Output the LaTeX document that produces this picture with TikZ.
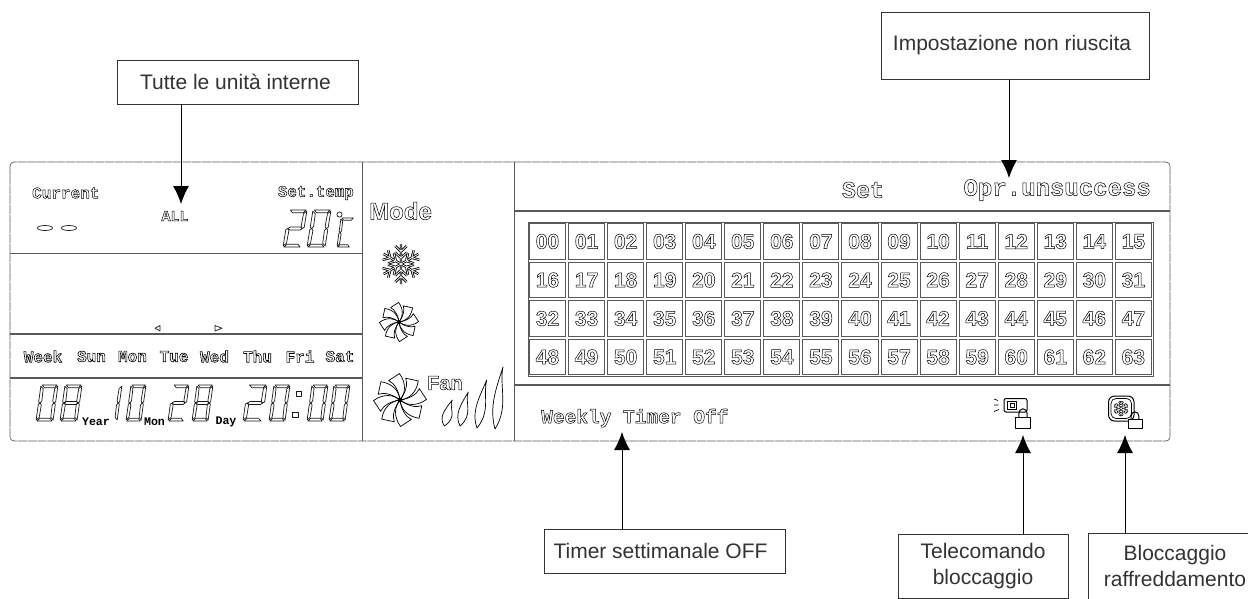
\documentclass[tikz,border=0pt]{standalone}
\usepackage{fontspec}
\setmainfont{Liberation Sans}
\newfontfamily\lcdmono{Liberation Mono}
\usetikzlibrary{arrows.meta}
\definecolor{ink}{gray}{0.2}
\definecolor{rulec}{gray}{0.35}
\tikzset{
  callout/.style={draw=ink,line width=1pt,fill=white,inner sep=0pt,align=center,text=ink,font=\fontsize{21}{26}\selectfont},
  pointer/.style={draw=black,line width=1pt,-{Latex[length=18pt,width=16pt]}},
  panelline/.style={draw=rulec,line width=.7pt,dash pattern=on 9pt off .7pt},
  divider/.style={draw=rulec,line width=1.5pt},
  lcdseg/.style={draw=black!90,line width=.7pt,line join=round},
  icon/.style={draw=black,line width=.7pt,line join=round},
  lcdtext/.style={inner sep=0pt,text=black},
}
% outlined text
\newcommand\ol[2][0.5]{\special{pdf:code 1 Tr #1 w}#2\special{pdf:code 0 Tr 1 w}}
\newcommand\mono[1]{\lcdmono\bfseries\fontsize{#1}{#1}\selectfont}
\newcommand\sans[1]{\bfseries\fontsize{#1}{#1}\selectfont}
% seven segment digit
\def\sega{(.08,0)--(.95,0)--(.82,.075)--(.22,.075)--cycle}
\def\segb{(1,.03)--(1,.47)--(.9,.5)--(.82,.44)--(.84,.1)--cycle}
\def\segc{(1,.53)--(1,.97)--(.84,.9)--(.82,.56)--(.9,.5)--cycle}
\def\segd{(.05,1)--(.95,1)--(.8,.925)--(.2,.925)--cycle}
\def\sege{(0,.53)--(0,.97)--(.16,.9)--(.18,.56)--(.1,.5)--cycle}
\def\segf{(0,.03)--(0,.47)--(.1,.5)--(.18,.44)--(.16,.1)--cycle}
\def\segg{(.1,.5)--(.22,.46)--(.8,.46)--(.9,.5)--(.8,.54)--(.22,.54)--cycle}
\newcommand\lcdpiece[1]{\draw[lcdseg] #1;}
\newcommand\lcddigit[6]{% x y w h slant segments
  \begin{scope}[shift={(#1,#2)},x={(#3 pt,0pt)},y={(-#5 pt,-#4 pt)}]
    \foreach \sg in {#6}{\expandafter\lcdpiece\csname seg\sg\endcsname}
  \end{scope}}
\newcommand\fanicon[3]{%
  \begin{scope}[shift={(#1,#2)},x={(#3 pt,0pt)},y={(0pt,#3 pt)}]
    \foreach \an in {0,45,...,315}{
      \draw[icon,rotate=\an] (0,0) .. controls (.25,-.2) and (.6,-.25) .. (.98,.02)
        -- (.72,.42) .. controls (.62,.2) and (.35,.05) .. (0,0);
    }
    \fill (0,0) circle (.09);
  \end{scope}}
\newcommand\snowicon[4]{% x y r stroke
  \begin{scope}[shift={(#1,#2)},x={(#3 pt,0pt)},y={(0pt,#3 pt)}]
    \foreach \lw/\co in {#4 pt/black,{.3*#4 pt}/white}{
      \foreach \an in {30,90,...,330}{
        \draw[rotate=\an,line width=\lw,color=\co,line cap=butt]
          (0,0)--(1,0) (.3,0)--(.58,.3) (.3,0)--(.58,-.3) (.62,0)--(.9,.28) (.62,0)--(.9,-.28);
      }
    }
  \end{scope}}
\newcommand\lockicon[4]{% x y w h
  \draw[icon,fill=white] (#1,#2) rectangle ++(#3,#4);
  \draw[icon,line width=1pt] (#1+.22*#3,#2) -- ++(0,-.3*#4) arc[start angle=180,end angle=0,x radius=.28*#3,y radius=-.45*#4] -- ++(0,.3*#4);
}
\begin{document}
\begin{tikzpicture}[x=1pt,y=-1pt]
\useasboundingbox (0,0) rectangle (1248,598);
\clip (0,0) rectangle (1248,598);
\fill[white] (0,0) rectangle (1248,598);

% panel
\draw[panelline,rounded corners=4pt] (10,162) rectangle (1170,441);
\draw[divider,line width=1.2pt] (362.5,162) -- (362.5,441);
\draw[divider] (514.5,162) -- (514.5,441);
\draw[divider] (10,253.5) -- (362,253.5);
\draw[divider] (10,334) -- (362,334);
\draw[divider] (10,378) -- (362,378);
\draw[divider] (514,211) -- (1170,211);
\draw[divider] (514,385) -- (1170,385);

% left panel texts
\node[lcdtext,anchor=west] (tcur) at (32,193) {\mono{16}\ol{Current}};
\node[lcdtext] (tall) at (175,216) {\mono{15}\ol{ALL}};
\node[lcdtext,anchor=east] (tset) at (354,193) {\mono{15.8}\ol{Set.temp}};
\draw[lcdseg] (45,228) ellipse (7.5 and 2.5) (69,228) ellipse (7.5 and 2.5);
\lcddigit{289}{210}{18}{37}{6}{a,b,g,e,d}
\lcddigit{313}{210}{18}{37}{6}{a,b,c,d,e,f}
\draw[lcdseg] (339.5,214.5) circle (2.6);
\lcddigit{341}{218}{13}{29}{4}{a,d,e,f}

\draw[lcdseg] (160,325.5) -- (160,331) -- (155,328.2) -- cycle;
\draw[lcdseg] (215,325.5) -- (215,331) -- (222,328.2) -- cycle;

\foreach \wtxt/\wx/\ws in {Week/43/16,Sun/91.5/16,Mon/132.5/16,Tue/174/16,Wed/214.5/16,Thu/257.5/16,Fri/300/16,Sat/340/16}{
  \node[lcdtext] (d\wtxt) at (\wx,356.5) {\mono{\ws}\ol[.6]{\wtxt}};
}

\lcddigit{41}{385}{17}{36}{5}{a,b,c,d,e,f}
\lcddigit{65}{385}{17}{36}{5}{a,b,c,d,e,f,g}
\node[lcdtext] (tyear) at (96,421.5) {\mono{11.6}Year};
\lcddigit{107}{385}{15}{36}{5}{b,c}
\lcddigit{131}{385}{15}{36}{5}{a,b,c,d,e,f}
\node[lcdtext] (tmon) at (154.5,422) {\mono{11.6}Mon};
\lcddigit{173}{385}{16}{36}{5}{a,b,g,e,d}
\lcddigit{197}{385}{16}{36}{5}{a,b,c,d,e,f,g}
\node[lcdtext] (tday) at (226,422) {\mono{11.6}Day};
\lcddigit{248}{385}{19}{36}{5}{a,b,g,e,d}
\lcddigit{274}{385}{16}{36}{5}{a,b,c,d,e,f}
\draw[lcdseg] (296,391) rectangle ++(5.5,5) (292.5,412) rectangle ++(5.5,5);
\lcddigit{312}{385}{16}{36}{5}{a,b,c,d,e,f}
\lcddigit{334}{385}{16}{36}{5}{a,b,c,d,e,f}

% mode column
\node[lcdtext,anchor=west] (tmode) at (369,211) {\sans{24}\ol{Mode}};
\snowicon{401}{264}{20}{2.4}
\fanicon{399}{322}{20}
\fanicon{400}{400}{27}
\node[lcdtext,anchor=west] (tfan) at (427,383) {\sans{20}\ol{Fan}};
\foreach \bx/\by/\tx/\ty in {444.3/426/452.3/400,460/426/468.3/392,477/428/486.7/380,495/429/503/367}{
  \pgfmathsetmacro\fh{\by-\ty}
  \draw[icon] (\bx,\by) .. controls (\bx-6,\by-.35*\fh) and (\tx-7,\by-.65*\fh) .. (\tx,\ty)
     .. controls (\tx-4,\ty+.3*\fh) and (\bx+14,\by-.35*\fh) .. (\bx,\by) -- cycle;
}

% right panel
\node[lcdtext] (tsetr) at (863,190) {\mono{23.5}\ol{Set}};
\node[lcdtext,anchor=east] (topr) at (1151,190) {\mono{24}\ol{Opr.unsuccess}};
\node[lcdtext,anchor=west] (tweek) at (541,418) {\mono{19.5}\ol{Weekly Timer Off}};

% grid
\draw[draw=rulec,line width=1pt] (528,222) rectangle (1153,376);
\foreach \n [evaluate=\n as \cc using {int(mod(\n,16))},evaluate=\n as \rr using {int(\n/16)}] in {0,...,63}{
  \pgfmathsetmacro\gx{528+39.06*\cc}
  \pgfmathsetmacro\gy{222+38.5*\rr}
  \draw[draw=rulec,line width=1pt] (\gx+1.5,\gy+1.5) rectangle ++(36.06,35.5);
  \pgfmathtruncatemacro\tens{\n/10}
  \pgfmathtruncatemacro\ones{mod(\n,10)}
  \node[lcdtext] (cell\n) at (\gx+19.5,\gy+19.5) {\sans{21}\ol{\tens\ones}};
}

% remote lock icon
\draw[icon,line width=1pt,rounded corners=2pt] (1004,398.5) rectangle (1027,412);
\draw[icon,line width=1pt] (1007.5,401) rectangle (1016,409);
\draw[icon] (1010,403) rectangle (1014,407);
\draw[icon] (994,399) -- (998,400.5) (994,405) -- (998.5,405) (994,411.5) -- (999,409.5);
\lockicon{1015.5}{417}{15}{11}
% cooling lock icon
\draw[icon,line width=1pt,rounded corners=6pt] (1108.5,396) rectangle (1134,421);
\draw[icon,rounded corners=5pt] (1111,398.5) rectangle (1131.5,418.5);
\snowicon{1121}{408.5}{7.5}{1.6}
\lockicon{1128}{419}{14}{9.5}

% callouts
\node[callout,minimum width=241pt,minimum height=44pt] (nall) at (237.5,82) {Tutte le unità interne\hspace{4pt}};
\node[callout,minimum width=268pt,minimum height=67pt] (nfail) at (1015,45.5) {Impostazione non riuscita\hspace{6pt}};
\node[callout,minimum width=241pt,minimum height=44pt] (nweek) at (664.5,551) {Timer settimanale OFF\hspace{8pt}};
\node[callout,minimum width=170pt,minimum height=64pt] (nrem) at (983,566) {Telecomando\\bloccaggio};
\node[callout,minimum width=174pt,minimum height=66pt] (ncool) at (1175,566) {Bloccaggio\\raffreddamento};

\coordinate (pall) at (181,204);
\coordinate (pfail) at (1009,178);
\coordinate (pweek) at (622,432);
\coordinate (prem) at (1023,435);
\coordinate (pcool) at (1125,435);
\draw[pointer] (nall.south -| pall) -- (pall);
\draw[pointer] (nfail.south -| pfail) -- (pfail);
\draw[pointer] (nweek.north -| pweek) -- (pweek);
\draw[pointer] (nrem.north -| prem) -- (prem);
\draw[pointer] (ncool.north -| pcool) -- (pcool);
\end{tikzpicture}
\end{document}
